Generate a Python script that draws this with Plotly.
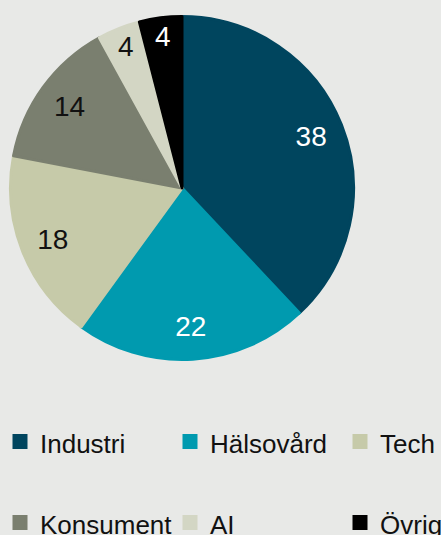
import plotly.graph_objects as go

labels = ["Industri", "Hälsovård", "Tech", "Konsument", "AI", "Övrigt"]
values = [38, 22, 18, 14, 4, 4]
colors = ["#00455e", "#009aaf", "#c6caa9", "#7a7f6f", "#d3d6c4", "#000000"]
text_colors = ["#ffffff", "#ffffff", "#111111", "#111111", "#111111", "#ffffff"]

BG = "#e8e9e7"
FONT = "Liberation Sans, Arial, sans-serif"
W, H = 520, 535
cx, cy, r = 182, 188, 171.5
LW = 3
pie_domain = dict(x=[(cx - r) / W, (cx + r) / W], y=[1 - (cy + r) / H, 1 - (cy - r) / H])

legend_labels = [f"<span style='font-size:26px'>{l}</span><br>\u00a0" for l in labels]

fig = go.Figure()
# slices (legend source)
fig.add_trace(go.Pie(
    labels=legend_labels,
    values=values,
    sort=False,
    direction="clockwise",
    rotation=0,
    marker=dict(colors=colors, line=dict(width=LW, color=colors)),
    textinfo="none",
    domain=pie_domain,
    hoverinfo="value",
))
# value labels, placed in the outer ring
fig.add_trace(go.Pie(
    labels=labels,
    values=values,
    sort=False,
    direction="clockwise",
    rotation=0,
    hole=0.62,
    marker=dict(colors=["rgba(0,0,0,0)"] * len(values), line=dict(width=0)),
    textinfo="value",
    textposition="inside",
    insidetextorientation="horizontal",
    textfont=dict(size=28, color=text_colors, family=FONT),
    domain=pie_domain,
    showlegend=False,
    hoverinfo="skip",
))

fig.update_layout(
    width=W, height=H,
    margin=dict(l=0, r=0, t=0, b=0, autoexpand=False),
    paper_bgcolor=BG,
    plot_bgcolor=BG,
    font=dict(family=FONT, color="#111111"),
    showlegend=True,
    legend=dict(
        orientation="h",
        x=0, xanchor="left",
        y=1 - 415.5 / H, yanchor="top",
        font=dict(size=30),
        valign="top",
        entrywidth=125,
        bgcolor="rgba(0,0,0,0)",
    ),
)

fig.write_html(
    "out.html",
    post_script=(
        "document.documentElement.style.background='%s';"
        "document.body.style.margin='0px';"
        "document.body.style.overflow='hidden';"
        "document.body.style.background='%s';" % (BG, BG)
    ),
)
